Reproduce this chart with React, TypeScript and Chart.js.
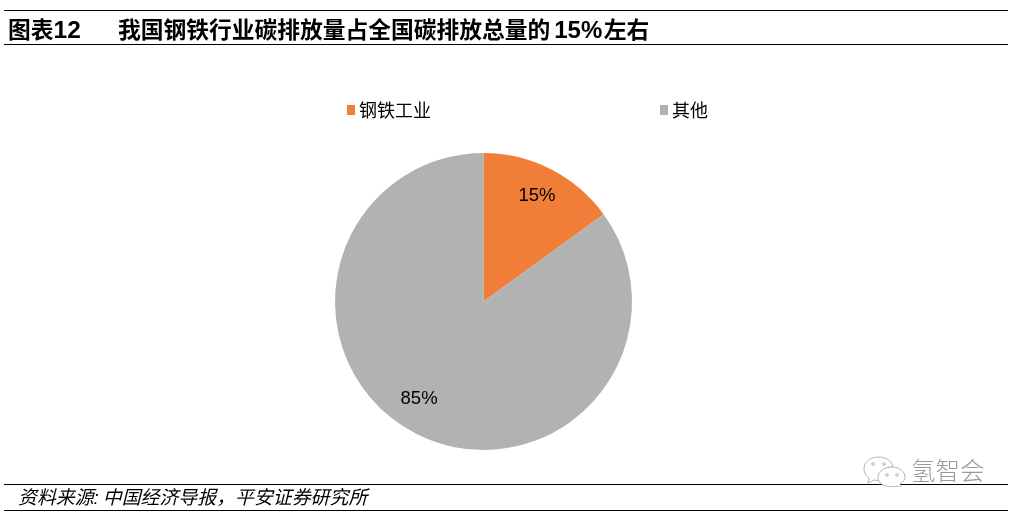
import React, { useEffect, useRef } from "react";
import { Chart, registerables } from "chart.js";

Chart.register(...registerables);

const categories = ["钢铁工业", "其他"];
const shares = [15, 85];
const sliceColors = ["#F07E38", "#B2B2B2"];
const titleLabel = "图表12";
const titleHead = "我国钢铁行业碳排放量占全国碳排放总量的";
const titleFigure = "15%";
const titleTail = "左右";
const sourceHead = "资料来源:";
const sourceTail = "中国经济导报\uFF0C平安证券研究所";
const watermark = "氢智会";

const FONT = '"Liberation Sans", "Noto Sans CJK SC", sans-serif';
const legendX = [347, 660];
const legendY = 110;
const labelShift = [[-0.5, 0], [-10.5, -8]];

const sliceText = {
  id: "sliceText",
  afterDatasetsDraw(chart: any) {
    const { ctx } = chart;
    const meta = chart.getDatasetMeta(0);
    ctx.save();
    ctx.font = `18.5px ${FONT}`;
    ctx.fillStyle = "#000";
    ctx.textAlign = "center";
    ctx.textBaseline = "middle";
    meta.data.forEach((arc: any, i: number) => {
      const mid = (arc.startAngle + arc.endAngle) / 2;
      const r = arc.outerRadius * 0.8;
      ctx.fillText(
        `${chart.data.datasets[0].data[i]}%`,
        arc.x + Math.cos(mid) * r + labelShift[i][0],
        arc.y + Math.sin(mid) * r + labelShift[i][1]
      );
    });
    ctx.restore();
  },
};

const spacedLegend = {
  id: "spacedLegend",
  afterDraw(chart: any) {
    const { ctx } = chart;
    ctx.save();
    ctx.font = `18px ${FONT}`;
    ctx.textBaseline = "middle";
    ctx.textAlign = "left";
    chart.data.labels.forEach((label: string, i: number) => {
      ctx.fillStyle = chart.data.datasets[0].backgroundColor[i];
      ctx.fillRect(legendX[i], legendY - 5, 8, 10);
      ctx.fillStyle = "#000";
      ctx.fillText(label, legendX[i] + 12, legendY + 2);
    });
    ctx.restore();
  },
};

const rule = (top: number): React.CSSProperties => ({
  position: "absolute",
  left: 4,
  width: 1004,
  top,
  height: 1,
  background: "#000",
});

const withLatin = (text: string) =>
  text.split(/([0-9%]+)/).map((part, i) =>
    i % 2 === 1 ? <span key={i} style={{ fontSize: 24.5 }}>{part}</span> : <span key={i}>{part}</span>
  );

export default function App() {
  const ref = useRef<HTMLCanvasElement>(null);
  useEffect(() => {
    const chart = new Chart(ref.current!, {
      type: "pie",
      data: {
        labels: categories,
        datasets: [{ data: shares, backgroundColor: sliceColors, borderWidth: 0 }],
      },
      options: {
        animation: false,
        responsive: false,
        radius: 148.5,
        layout: { padding: { top: 153, bottom: 65, left: 0, right: 50 } },
        plugins: { legend: { display: false }, tooltip: { enabled: false } },
      } as any,
      plugins: [sliceText, spacedLegend],
    });
    return () => chart.destroy();
  }, []);

  const titleStyle: React.CSSProperties = { position: "absolute", top: 15, fontSize: 22.75, lineHeight: "30px", fontWeight: 700, whiteSpace: "nowrap" };

  return (
    <div style={{ position: "fixed", left: 0, top: 0, width: 1017, height: 515, background: "#fff", overflow: "hidden", fontFamily: FONT, color: "#000" }}>
      <canvas ref={ref} width={1017} height={515} style={{ position: "absolute", left: 0, top: 0, width: 1017, height: 515 }} />
      <div style={rule(10)} />
      <div style={rule(44)} />
      <div style={rule(484)} />
      <div style={rule(510)} />
      <div style={{ ...titleStyle, left: 8 }}>{withLatin(titleLabel)}</div>
      <div style={{ ...titleStyle, left: 118 }}>
        <span>{titleHead}</span>
        <span style={{ marginLeft: 4, fontSize: 24 }}>{titleFigure}</span>
        <span style={{ marginLeft: 1.5 }}>{titleTail}</span>
      </div>
      <div style={{ position: "absolute", left: 18, top: 485, fontSize: 18.9, lineHeight: "25px", fontStyle: "italic", whiteSpace: "nowrap" }}>
        <span style={{ marginRight: 4 }}>{sourceHead}</span>
        <span>{sourceTail}</span>
      </div>
      <svg style={{ position: "absolute", left: 862, top: 455, width: 46, height: 32 }} viewBox="0 0 46 32" fill="#fff" stroke="#b5b5b5" strokeWidth="1">
        <path d="M17 2C8 2 2 7 2 14c0 4 2 7 5 9l-1 5 6-3c2 .5 4 .6 6 .3C16 17 24 11 31 12 30 6 24 2 17 2z" />
        <path d="M30 12c-8 0-14 5-14 10.500s6 9.500 14 9c2 0 3 0 4-.5l5 2-1-4c3-2 5-4 5-7 0-5.500-6-10-13-10z" />
        <circle cx="11" cy="9" r="1.300" />
        <circle cx="22" cy="9" r="1.300" />
        <circle cx="25" cy="20" r="1.300" />
        <circle cx="35" cy="20" r="1.300" />
      </svg>
      <div style={{ position: "absolute", left: 911, top: 457, fontSize: 24.5, lineHeight: "30px", color: "#9a9a9a", fontWeight: 300, whiteSpace: "nowrap" }}>{watermark}</div>
    </div>
  );
}
